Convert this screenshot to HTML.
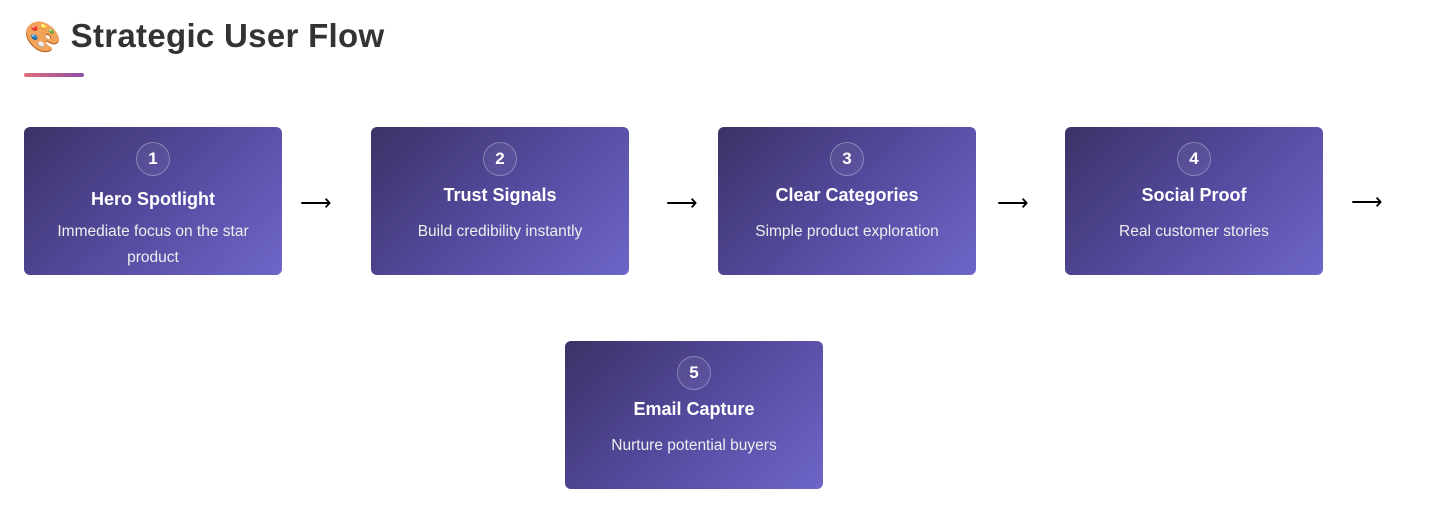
<!DOCTYPE html>
<html><head><meta charset="utf-8"><style>
body{margin:0;width:1440px;height:513px;background:#fff;font-family:"Liberation Sans",sans-serif;position:relative;overflow:hidden}
h1{position:absolute;left:24px;top:14px;margin:0;font-size:33px;font-weight:bold;color:#333;line-height:44px;letter-spacing:0.3px}
h1 span{font-size:30px;margin-right:9px}
.ul{position:absolute;left:24px;top:73px;width:60px;height:4px;border-radius:2px;background:linear-gradient(90deg,#e26d7c,#8a4fa3)}
.card{position:absolute;width:258px;height:148px;border-radius:6px;background:linear-gradient(135deg,#3a3366 0%,#544a9e 50%,#6e66c8 100%);color:#fff;display:flex;flex-direction:column;align-items:center;justify-content:flex-start;text-align:center;box-sizing:border-box;padding:15px 20px 0}
.n{width:32px;height:32px;border-radius:50%;border:1px solid rgba(255,255,255,.3);background:rgba(255,255,255,.06);font-weight:bold;font-size:17px;line-height:32px;margin-bottom:6px}
.t{font-weight:bold;font-size:18px;line-height:26px;margin-bottom:11px}
.d{font-size:15.5px;line-height:26px;color:#eee}
.a{position:absolute;font-size:22px;line-height:26px;color:#000}
</style></head><body>
<h1><span>🎨</span>Strategic User Flow</h1>
<div class="ul"></div>
<div class="card" style="left:24px;top:127px"><div class="n">1</div><div class="t" style="margin-top:4px;margin-bottom:7px">Hero Spotlight</div><div class="d">Immediate focus on the star product</div></div>
<div class="a" style="left:300px;top:190px">⟶</div>
<div class="card" style="left:371px;top:127px"><div class="n">2</div><div class="t">Trust Signals</div><div class="d">Build credibility instantly</div></div>
<div class="a" style="left:666px;top:190px">⟶</div>
<div class="card" style="left:718px;top:127px"><div class="n">3</div><div class="t">Clear Categories</div><div class="d">Simple product exploration</div></div>
<div class="a" style="left:997px;top:190px">⟶</div>
<div class="card" style="left:1065px;top:127px"><div class="n">4</div><div class="t">Social Proof</div><div class="d">Real customer stories</div></div>
<div class="a" style="left:1351px;top:189px">⟶</div>
<div class="card" style="left:565px;top:341px"><div class="n">5</div><div class="t">Email Capture</div><div class="d">Nurture potential buyers</div></div>
</body></html>
